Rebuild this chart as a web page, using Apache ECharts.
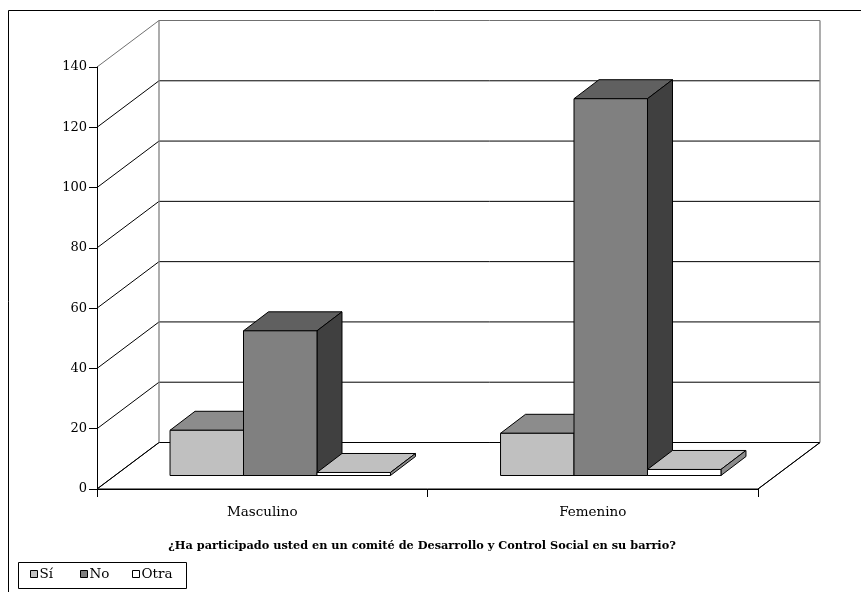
<!DOCTYPE html>
<html>
<head>
<meta charset="utf-8">
<script src="https://cdn.jsdelivr.net/npm/echarts@6/dist/echarts.min.js"></script>
<style>html,body{margin:0;padding:0;background:#fff;}#c{width:861px;height:592px;}</style>
</head>
<body>
<div id="c"></div>
<script>
// ---- data ----
const categories = ['Masculino', 'Femenino'];
const seriesNames = ['Sí', 'No', 'Otra'];
const siValues = [15, 14];
const noValues = [48, 125];
const otraValues = [1, 2];
const yTicks = [0, 20, 40, 60, 80, 100, 120, 140];
const titleText = '¿Ha participado usted en un comité de Desarrollo y Control Social en su barrio?';

// ---- styles ----
const FONT = 'DejaVu Serif';
const WALL_D = { dx: 62, dy: -46.5 };   // depth of floor / walls
const BAR_F = { dx: 18, dy: -13.5 };    // bar front plane shift
const BAR_D = { dx: 25, dy: -19 };      // bar depth
const BAR_FRAC = 0.2223;
const LEGEND_LEFTS = [30, 80, 132];
const shades = [
  { front: '#C0C0C0', top: '#8C8C8C', side: '#606060' },
  { front: '#808080', top: '#606060', side: '#404040' },
  { front: '#FFFFFF', top: '#C0C0C0', side: '#8C8C8C' }
];
const valueSets = [siValues, noValues, otraValues];

const chart = echarts.init(document.getElementById('c'), null, { renderer: 'canvas' });

function renderWalls(params, api) {
  const cs = params.coordSys;
  const x0 = cs.x, x1 = cs.x + cs.width;
  const y0 = api.coord([0, 0])[1];
  const yMax = api.coord([0, yTicks[yTicks.length - 1]])[1];
  const dx = WALL_D.dx, dy = WALL_D.dy;
  const children = [];
  children.push({ type: 'polygon', shape: { points: [[x0 + dx, y0 + dy], [x1 + dx, y0 + dy], [x1 + dx, yMax + dy], [x0 + dx, yMax + dy]] }, style: { fill: '#fff', stroke: null } });
  children.push({ type: 'polygon', shape: { points: [[x0, y0], [x0 + dx, y0 + dy], [x0 + dx, yMax + dy], [x0, yMax]] }, style: { fill: '#fff', stroke: null } });
  children.push({ type: 'polygon', shape: { points: [[x0, y0], [x1, y0], [x1 + dx, y0 + dy], [x0 + dx, y0 + dy]] }, style: { fill: '#fff', stroke: '#000', lineWidth: 1 } });
  yTicks.forEach(function (v, i) {
    const y = api.coord([0, v])[1];
    const last = i === yTicks.length - 1;
    children.push({ type: 'polyline', shape: { points: [[x0, y], [x0 + dx, y + dy], [x1 + dx, y + dy]] }, style: { stroke: last ? '#707070' : '#000', lineWidth: 1, fill: null } });
  });
  children.push({ type: 'line', shape: { x1: x0 + dx, y1: y0 + dy, x2: x0 + dx, y2: yMax + dy }, style: { stroke: '#808080', lineWidth: 1.3 } });
  children.push({ type: 'line', shape: { x1: x1 + dx, y1: y0 + dy, x2: x1 + dx, y2: yMax + dy }, style: { stroke: '#808080', lineWidth: 1.3 } });
  children.push({ type: 'line', shape: { x1: x1, y1: y0, x2: x1 + dx, y2: y0 + dy }, style: { stroke: '#000', lineWidth: 1 } });
  return { type: 'group', children: children };
}

function renderBar(params, api) {
  const si = params.seriesIndex - 1;
  const sh = shades[si];
  const cat = api.value(0), val = api.value(1);
  const base = api.coord([cat, 0]);
  const top = api.coord([cat, val]);
  const bw = api.size([1, 0])[0];
  const w = bw * BAR_FRAC;
  const xL = base[0] - 1.5 * w + si * w + BAR_F.dx;
  const xR = xL + w;
  const yB = base[1] + BAR_F.dy;
  const yT = top[1] + BAR_F.dy;
  const st = { stroke: '#000', lineWidth: 1, lineJoin: 'round' };
  return {
    type: 'group',
    children: [
      { type: 'polygon', shape: { points: [[xL, yT], [xR, yT], [xR + BAR_D.dx, yT + BAR_D.dy], [xL + BAR_D.dx, yT + BAR_D.dy]] }, style: Object.assign({ fill: sh.top }, st) },
      { type: 'polygon', shape: { points: [[xR, yT], [xR + BAR_D.dx, yT + BAR_D.dy], [xR + BAR_D.dx, yB + BAR_D.dy], [xR, yB]] }, style: Object.assign({ fill: sh.side }, st) },
      { type: 'rect', shape: { x: xL, y: yT, width: w, height: yB - yT }, style: Object.assign({ fill: sh.front }, st) }
    ]
  };
}

const barSeries = seriesNames.map(function (name, i) {
  return {
    name: name,
    type: 'custom',
    renderItem: renderBar,
    itemStyle: { color: shades[i].front, borderColor: '#000', borderWidth: 1 },
    encode: { x: 0, y: 1 },
    data: valueSets[i].map(function (v, c) { return [c, v]; }),
    z: 3,
    silent: true
  };
});

const legends = seriesNames.map(function (n, i) {
  return {
    left: LEGEND_LEFTS[i], top: 567,
    padding: 0,
    itemWidth: 7, itemHeight: 7,
    itemGap: 0,
    icon: 'rect',
    selectedMode: false,
    textStyle: { color: '#000', fontFamily: FONT, fontSize: 13.5, padding: [0, 0, 0, -3] },
    data: [{ name: n, icon: 'rect', itemStyle: { color: shades[i].front, borderColor: '#000', borderWidth: 1 } }]
  };
});

const option = {
  animation: false,
  backgroundColor: '#fff',
  grid: { left: 97, right: 103, top: 67, bottom: 103, containLabel: false },
  xAxis: {
    type: 'category',
    data: categories,
    boundaryGap: true,
    axisLine: { show: true, lineStyle: { color: '#000', width: 1 } },
    axisTick: { show: true, length: 8, lineStyle: { color: '#000' } },
    axisLabel: { color: '#000', fontFamily: FONT, fontSize: 13.5, margin: 16 },
    splitLine: { show: false }
  },
  yAxis: {
    type: 'value',
    min: 0, max: 140, interval: 20,
    axisLine: { show: true, lineStyle: { color: '#000', width: 1 } },
    axisTick: { show: true, length: 8, lineStyle: { color: '#000' } },
    axisLabel: { color: '#000', fontFamily: FONT, fontSize: 13, margin: 10 },
    splitLine: { show: false }
  },
  legend: legends,
  graphic: [
    { type: 'polyline', silent: true, shape: { points: [[8.5, 592], [8.5, 10.5], [861, 10.5]] }, style: { stroke: '#000', lineWidth: 1, fill: null } },
    { type: 'rect', silent: true, shape: { x: 18.5, y: 562.5, width: 168, height: 26 }, style: { stroke: '#000', lineWidth: 1, fill: null } },
    { type: 'text', silent: true, x: 422, y: 546, style: { text: titleText, fill: '#000', font: 'bold 11.3px "DejaVu Serif"', textAlign: 'center', textVerticalAlign: 'middle' } }
  ],
  series: [{
    name: 'walls',
    type: 'custom',
    renderItem: renderWalls,
    data: [[0, 0]],
    encode: { x: 0, y: 1 },
    z: -1,
    silent: true
  }].concat(barSeries)
};
chart.setOption(option);
</script>
</body>
</html>
